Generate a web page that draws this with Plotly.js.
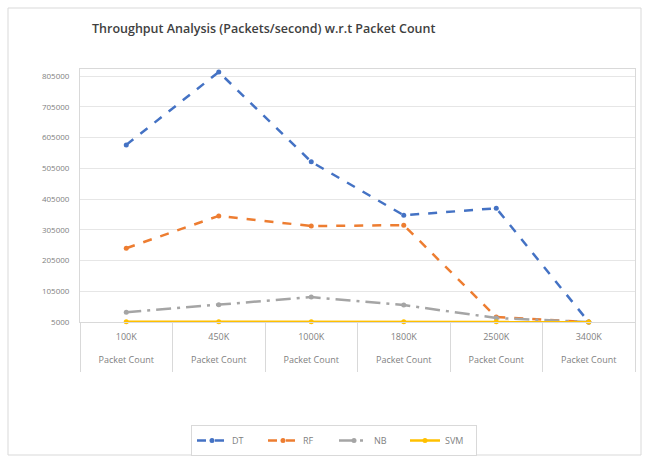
<!DOCTYPE html>
<html>
<head>
<meta charset="utf-8">
<script src="https://cdn.plot.ly/plotly-3.0.1.min.js"></script>
<style>html,body{margin:0;padding:0;background:#fff;}#chart{width:649px;height:462px;}</style>
</head>
<body>
<div id="chart"></div>
<script>
const categories = ["100K", "450K", "1000K", "1800K", "2500K", "3400K"];
const categorySubLabel = "Packet Count";
const seriesNames = ["DT", "RF", "NB", "SVM"];
const dtValues = [581000, 818000, 526000, 352000, 375000, 5000];
const rfValues = [245000, 350000, 317000, 320000, 21000, 5000];
const nbValues = [37000, 61000, 86000, 60000, 18000, 5000];
const svmValues = [6000, 6000, 6000, 6000, 6000, 5000];
const yTickValues = [5000, 105000, 205000, 305000, 405000, 505000, 605000, 705000, 805000];

const tickText = categories.map(c => c + "<br><br>" + categorySubLabel);
const colors = ["#4472C4", "#ED7D31", "#A5A5A5", "#FFC000"];
const dashes = ["dash", "dash", "longdashdot", "solid"];
const allValues = [dtValues, rfValues, nbValues, svmValues];

const traces = allValues.map((vals, i) => ({
  type: "scatter",
  mode: "lines+markers",
  name: seriesNames[i],
  x: categories,
  y: vals,
  line: {color: colors[i], width: 2.5, dash: dashes[i]},
  marker: {color: colors[i], size: 5, symbol: "circle"},
  cliponaxis: false
}));

const layout = {
  width: 649, height: 462,
  margin: {l: 80, r: 14, t: 69, b: 140, autoexpand: false},
  paper_bgcolor: "#ffffff",
  plot_bgcolor: "#ffffff",
  font: {family: "Open Sans, Liberation Sans, sans-serif", size: 8, color: "#7f7f7f"},
  title: {
    text: "Throughput Analysis (Packets/second) w.r.t Packet Count",
    font: {family: "Open Sans, Liberation Sans, sans-serif", size: 12.5, color: "#404040", weight: 600},
    x: 92 / 649, xanchor: "left", xref: "container",
    y: 1 - 29 / 462, yanchor: "middle", yref: "container",
    automargin: false
  },
  xaxis: {
    type: "category",
    tickmode: "array",
    tickvals: categories,
    ticktext: tickText,
    tickson: "boundaries",
    ticks: "outside",
    ticklen: 49,
    tickcolor: "#d9d9d9",
    tickwidth: 1,
    ticklabelstandoff: 6,
    showgrid: false,
    showline: true,
    linecolor: "#d9d9d9",
    mirror: true,
    tickfont: {size: 9, color: "#7f7f7f"},
    range: [-0.5, 5.5],
    automargin: false,
    fixedrange: true
  },
  yaxis: {
    range: [5000, 827800],
    tickmode: "array",
    tickvals: yTickValues,
    ticktext: yTickValues.map(v => String(v)),
    showgrid: true,
    gridcolor: "#e6e6e6",
    gridwidth: 1,
    zeroline: false,
    showline: true,
    linecolor: "#d9d9d9",
    mirror: true,
    ticks: "",
    ticklabelstandoff: 8,
    tickfont: {size: 8, color: "#7f7f7f"},
    automargin: false,
    fixedrange: true
  },
  legend: {
    orientation: "h",
    x: 334 / 649, xanchor: "center", xref: "container",
    y: (462 - 425) / 462, yanchor: "top", yref: "container",
    bordercolor: "#d9d9d9", borderwidth: 1,
    font: {size: 9, color: "#7f7f7f"},
    itemwidth: 30,
    entrywidth: 26, entrywidthmode: "pixels",
    tracegroupgap: 0
  },
  shapes: [{
    type: "rect", xref: "paper", yref: "paper",
    x0: -72 / 555, x1: 561 / 555, y0: -133 / 253, y1: 314 / 253,
    line: {color: "#d9d9d9", width: 1}, fillcolor: "rgba(0,0,0,0)", layer: "below"
  }],
  showlegend: true
};

Plotly.newPlot("chart", traces, layout, {displayModeBar: false, staticPlot: true});
</script>
</body>
</html>
